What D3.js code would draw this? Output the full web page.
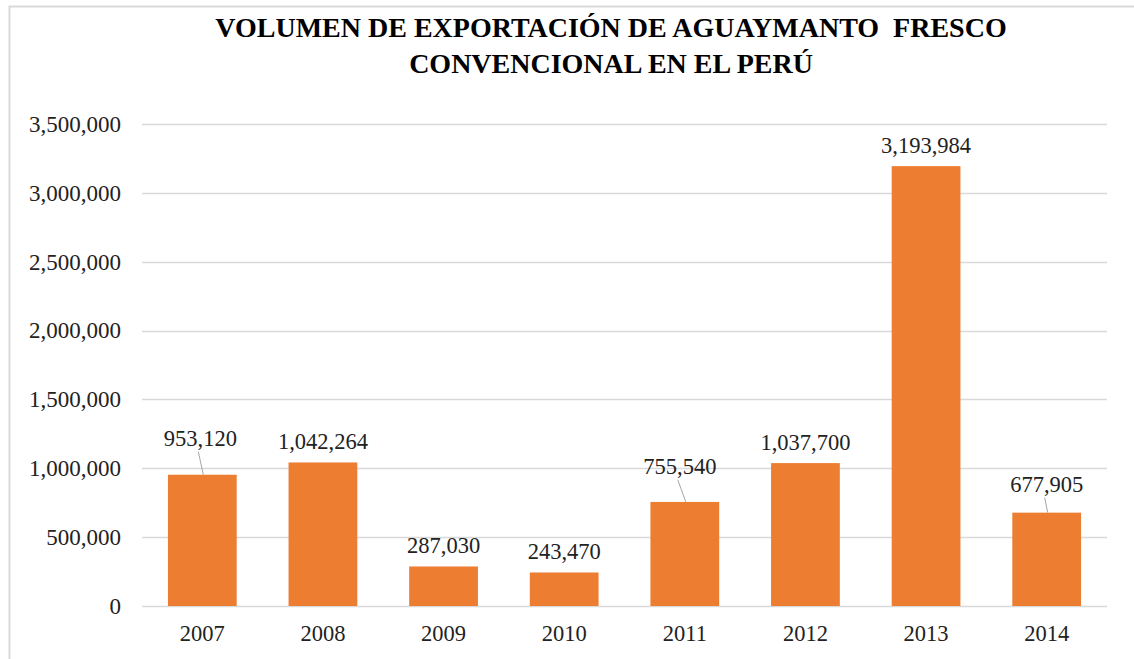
<!DOCTYPE html>
<html>
<head>
<meta charset="utf-8">
<script src="https://cdn.jsdelivr.net/npm/d3@7"></script>
<style>
  html, body { margin: 0; padding: 0; background: #fff; }
  svg { display: block; }
  text { font-family: "Liberation Serif", "Times New Roman", serif; }
</style>
</head>
<body>
<svg id="chart" width="1134" height="659"></svg>
<script>
// ---- data ----
const years = ["2007", "2008", "2009", "2010", "2011", "2012", "2013", "2014"];
const volumes = [953120, 1042264, 287030, 243470, 755540, 1037700, 3193984, 677905];
const yTicks = [0, 500000, 1000000, 1500000, 2000000, 2500000, 3000000, 3500000];
const titleLines = ["VOLUMEN DE EXPORTACIÓN DE AGUAYMANTO  FRESCO", "CONVENCIONAL EN EL PERÚ"];

// labels that were moved up and attached with a leader line (extra lift in px, x shift)
const leaderLift = { "2007": 16, "2011": 15, "2014": 8 };
const leaderShift = { "2007": -2, "2011": -5, "2014": 0 };

const W = 1134, H = 659;
const margin = { left: 142, right: 1107, top: 124, bottom: 606 };
const svg = d3.select("#chart");

// frame
svg.append("rect")
  .attr("x", 9.5).attr("y", 6.5).attr("width", W + 20).attr("height", H + 20)
  .attr("fill", "#fff").attr("stroke", "#d9d9d9").attr("stroke-width", 2);

const x = d3.scaleBand().domain(years).range([margin.left, margin.right]).paddingInner(0.43).paddingOuter(0.215);
const y = d3.scaleLinear().domain([0, 3500000]).range([margin.bottom, margin.top]);
const fmt = d3.format(",");
const labelGap = 13;

// gridlines
svg.append("g").selectAll("line").data(yTicks).join("line")
  .attr("x1", margin.left).attr("x2", margin.right)
  .attr("y1", d => Math.round(y(d)) + 0.5).attr("y2", d => Math.round(y(d)) + 0.5)
  .attr("stroke", "#d9d9d9").attr("stroke-width", 1.3);

// y axis labels
const yAxis = d3.axisLeft(y).tickValues(yTicks).tickFormat(fmt).tickSize(0).tickPadding(21);
const gy = svg.append("g").attr("transform", `translate(${margin.left},0)`).call(yAxis);
gy.select(".domain").remove();
gy.selectAll("text").attr("font-size", 23).attr("fill", "#222");

// x axis labels
const xAxis = d3.axisBottom(x).tickSize(0).tickPadding(19);
const gx = svg.append("g").attr("transform", `translate(0,${margin.bottom})`).call(xAxis);
gx.select(".domain").remove();
gx.selectAll("text").attr("font-size", 22.5).attr("fill", "#222");

// bars
const rows = years.map((yr, i) => ({ yr, v: volumes[i] }));
svg.append("g").selectAll("rect").data(rows).join("rect")
  .attr("x", d => x(d.yr)).attr("width", x.bandwidth())
  .attr("y", d => y(d.v)).attr("height", d => y(0) - y(d.v))
  .attr("fill", "#ED7D31");

// leader lines
svg.append("g").selectAll("line").data(rows.filter(d => leaderLift[d.yr])).join("line")
  .attr("x1", d => x(d.yr) + x.bandwidth() / 2 + leaderShift[d.yr] - 2)
  .attr("y1", d => y(d.v) - labelGap - leaderLift[d.yr] + 6)
  .attr("x2", d => x(d.yr) + x.bandwidth() / 2 + 1)
  .attr("y2", d => y(d.v))
  .attr("stroke", "#a6a6a6").attr("stroke-width", 1);

// data labels
svg.append("g").selectAll("text").data(rows).join("text")
  .attr("x", d => x(d.yr) + x.bandwidth() / 2 + (leaderShift[d.yr] || 0))
  .attr("y", d => y(d.v) - labelGap - (leaderLift[d.yr] || 0))
  .attr("text-anchor", "middle").attr("font-size", 22.5).attr("fill", "#222")
  .text(d => fmt(d.v));

// title
const title = svg.append("g");
title.selectAll("text").data(titleLines).join("text")
  .attr("x", 611).attr("y", (d, i) => 37 + i * 36)
  .attr("text-anchor", "middle").attr("font-size", 28).attr("font-weight", "bold")
  .attr("fill", "#000").style("white-space", "pre")
  .text(d => d);
</script>
</body>
</html>
